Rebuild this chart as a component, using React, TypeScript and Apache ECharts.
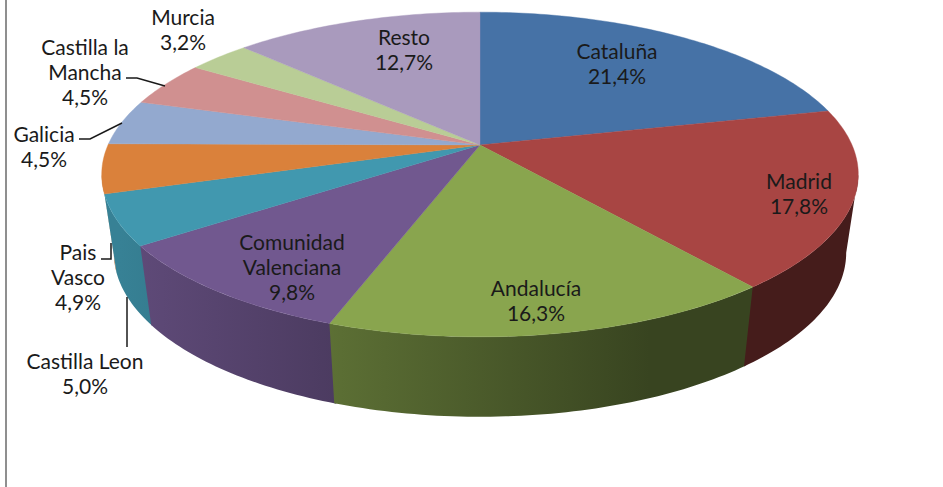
import React, { useEffect, useRef } from "react";
import * as echarts from "echarts";

const categories = ["Cataluña", "Madrid", "Andalucía", "Comunidad\nValenciana", "Castilla Leon", "Pais\nVasco", "Galicia", "Castilla la\nMancha", "Murcia", "Resto"];
const values = [21.4, 17.8, 16.3, 9.8, 5.0, 4.9, 4.5, 4.5, 3.2, 12.7];
const colors = ["#4672A6", "#A84543", "#89A54E", "#71588F", "#4198AF", "#DA813B", "#93A9CF", "#D09090", "#B9CD96", "#A99ABD"];

// layout (separate from data): label centre x and first-line y
const labelX = [617, 799, 536, 292, 85, 78, 44, 85, 183, 404];
const labelY = [51, 181, 288, 242, 361, 252, 134, 47, 17, 37];
const leaders: number[][][] = [
  [[126, 78], [137, 78], [165, 86]],
  [[79, 139], [90, 139], [122, 123]],
  [[101, 259], [111, 259], [111, 243]],
  [[127, 347], [127, 297]],
];

const total = values.reduce((a, b) => a + b, 0);
const cum: number[] = [];
values.reduce((a, b, i) => ((cum[i] = a), a + b), 0);

// perspective disc
const CX = 480, CY = 145, A = 372, B = 157, K = 0.1817;
const TANGENT = (Math.acos(-K) * 180) / Math.PI;
const rawPt = (deg: number) => {
  const t = (deg * Math.PI) / 180;
  const u = Math.sin(t), v = -Math.cos(t), w = 1 - K * v;
  return [(A * u) / w, (B * v) / w];
};
const topPt = (deg: number) => {
  const p = rawPt(deg);
  return [CX + p[0], CY + p[1]];
};
const botPt = (deg: number) => {
  const p = rawPt(deg);
  return [CX + p[0] * 0.968, CY + 78 + p[1] * 1.01];
};
const shade = (hex: string, f: number) => {
  const n = parseInt(hex.slice(1), 16);
  const c = [n >> 16, (n >> 8) & 255, n & 255].map((x) => Math.round(x * f));
  return `rgb(${c[0]},${c[1]},${c[2]})`;
};
const wallFill = (hex: string) =>
  new echarts.graphic.LinearGradient(
    120, 0, 650, 0,
    [
      { offset: 0, color: shade(hex, 0.85) },
      { offset: 1, color: shade(hex, 0.41) },
    ],
    true
  );
const arc = (a0: number, a1: number) => {
  const steps = Math.max(2, Math.ceil(a1 - a0));
  const out: number[] = [];
  for (let s = 0; s <= steps; s++) out.push(a0 + ((a1 - a0) * s) / steps);
  return out;
};
const startAng = (i: number) => (cum[i] / total) * 360;
const endAng = (i: number) => ((cum[i] + values[i]) / total) * 360;

export default function App() {
  const ref = useRef<HTMLDivElement>(null);
  useEffect(() => {
    const chart = echarts.init(ref.current!, null, { renderer: "svg", width: 943, height: 487 });
    const data = values.map((v, i) => ({ name: categories[i], value: v }));
    chart.setOption({
      animation: false,
      backgroundColor: "#ffffff",
      series: [
        {
          type: "custom",
          coordinateSystem: "none",
          silent: true,
          z: 1,
          data,
          renderItem: (p: any) => {
            const i = values.length - 1 - p.dataIndex;
            const a0 = Math.max(startAng(i) - 0.3, TANGENT);
            const a1 = Math.min(endAng(i), 360 - TANGENT);
            if (a1 <= a0) return { type: "group", children: [] };
            const angs = arc(a0, a1);
            return {
              type: "polygon",
              shape: { points: [...angs.map(topPt), ...angs.slice().reverse().map(botPt)] },
              style: { fill: wallFill(colors[i]) },
            };
          },
        },
        {
          type: "custom",
          coordinateSystem: "none",
          silent: true,
          z: 2,
          data,
          renderItem: (p: any) => {
            const i = p.dataIndex;
            return {
              type: "polygon",
              shape: { points: [[CX, CY], ...arc(startAng(i), endAng(i)).map(topPt)] },
              style: { fill: colors[i], stroke: colors[i], lineWidth: 0.4 },
            };
          },
        },
        {
          type: "custom",
          coordinateSystem: "none",
          silent: true,
          z: 3,
          data,
          renderItem: (p: any) => {
            const i = p.dataIndex;
            const pct = values[i].toFixed(1).replace(".", ",") + "%";
            return {
              type: "text",
              style: {
                x: labelX[i],
                y: labelY[i] - 13,
                text: `${categories[i]}\n${pct}`,
                fill: "#1a1a1a",
                font: '21px Lato, "Noto Sans", sans-serif',
                lineHeight: 25,
                align: "center",
                verticalAlign: "top",
              },
            };
          },
        },
      ],
      graphic: [
        { type: "rect", shape: { x: 5, y: 0, width: 2, height: 487 }, style: { fill: "#8f8f8f" }, silent: true },
        ...leaders.map((pts) => ({
          type: "polyline",
          z: 10,
          silent: true,
          shape: { points: pts },
          style: { stroke: "#1a1a1a", lineWidth: 1.5, fill: "none" },
        })),
      ],
    });
    return () => chart.dispose();
  }, []);
  return <div ref={ref} style={{ position: "fixed", left: 0, top: 0, width: 943, height: 487 }} />;
}
